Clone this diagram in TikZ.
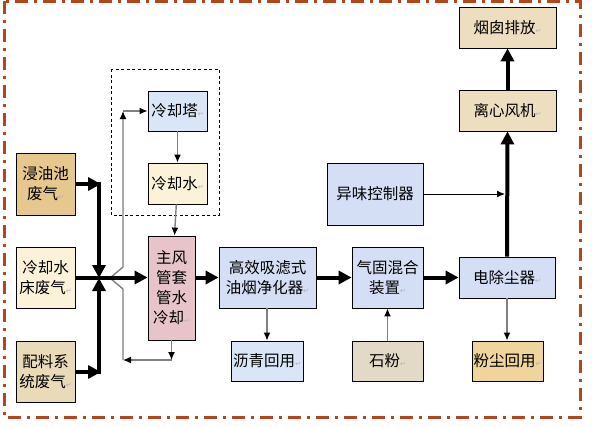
\documentclass[tikz,border=0pt]{standalone}
\usepackage{fontspec}
\newfontfamily\cjk{Noto Sans CJK SC}
\newfontfamily\symfont{DejaVu Sans}
\usetikzlibrary{arrows.meta}
\definecolor{framec}{HTML}{B5461C}
\definecolor{skyc}{HTML}{D8E6F7}
\definecolor{lilacc}{HTML}{D4DEF4}
\definecolor{creamc}{HTML}{FCF1D9}
\definecolor{tanc}{HTML}{E6C88E}
\definecolor{sandc}{HTML}{E9DAB8}
\definecolor{stonec}{HTML}{E3D9C7}
\definecolor{goldc}{HTML}{EFD49C}
\definecolor{beigec}{HTML}{EEDEC0}
\definecolor{pinkc}{HTML}{E7C4C9}
\newcommand{\retmk}{{\symfont\fontsize{7}{7}\selectfont\color{gray!60}↵}}

\begin{document}
\begin{tikzpicture}[x=1pt,y=-1pt]
    \tikzset{box/.style = {shape=rectangle, draw, line width=0.8pt, inner sep=1pt, align=center, font=\cjk\fontsize{15.5}{20}\selectfont}}
    \tikzset{flow/.style = {draw=black, line width=4pt, -{Triangle[length=13pt,width=13pt]}}}
    \tikzset{pipe/.style = {draw=gray, line width=1.4pt, -{Latex[length=8pt,width=7pt,color=black]}}}

    \useasboundingbox (0,0) rectangle (594,426);
    \draw[framec, line width=3pt, dash pattern=on 13pt off 6pt on 3pt off 6pt] (4,1) rectangle (580,417);
    \draw[dashed, line width=0.8pt, dash pattern=on 3pt off 2.5pt] (111,69) rectangle (219,215);

    % boxes
    \node[box, fill=tanc, minimum width=59pt, minimum height=62pt] (jyc) at (45.5,184) {浸油池\\废气\retmk};
    \node[box, fill=creamc, minimum width=59pt, minimum height=61pt] (lqc) at (45.5,277.5) {冷却水\\床废气\retmk};
    \node[box, fill=sandc, minimum width=59pt, minimum height=61pt] (plx) at (45.5,371.5) {配料系\\统废气\retmk};
    \node[box, fill=skyc, minimum width=59pt, minimum height=40pt] (lqt) at (177.5,111) {冷却塔\retmk};
    \node[box, fill=creamc, minimum width=59pt, minimum height=41pt] (lqs) at (177.5,183.5) {冷却水\retmk};
    \node[box, fill=pinkc, minimum width=47pt, minimum height=104pt] (zfg) at (171.5,288) {主风\\管套\\管水\\冷却\retmk};
    \node[box, fill=lilacc, minimum width=97pt, minimum height=61pt] (gx) at (267.5,277.5) {高效吸滤式\\油烟净化器\retmk};
    \node[box, fill=lilacc, minimum width=71pt, minimum height=61pt] (hh) at (387.5,277.5) {气固混合\\装置\retmk};
    \node[box, fill=lilacc, minimum width=96pt, minimum height=41pt] (dcc) at (507,277.5) {电除尘器\retmk};
    \node[box, fill=lilacc, minimum width=96pt, minimum height=62pt] (yw) at (375,194) {异味控制器};
    \node[box, fill=skyc, minimum width=72pt, minimum height=40pt] (lq) at (267,361) {沥青回用\retmk};
    \node[box, fill=stonec, minimum width=71pt, minimum height=40pt] (sf) at (387.5,361) {石粉\retmk};
    \node[box, fill=goldc, minimum width=71pt, minimum height=40pt] (fc) at (507.5,361) {粉尘回用\retmk};
    \node[box, fill=beigec, minimum width=97pt, minimum height=41pt] (lx) at (507.5,110.5) {离心风机\retmk};
    \node[box, fill=beigec, minimum width=97pt, minimum height=41pt] (yc) at (507.5,27.5) {烟囱排放\retmk};

    % cooling water loop
    \coordinate (c1) at (171.5,360);
    \coordinate (c2) at (123,360);
    \coordinate (c6) at (123,111);
    \draw[pipe] (lqt) -- (lqs);
    \draw[pipe] (lqs) -- (zfg);
    \draw[pipe] (zfg.south) -- (c1);
    \draw[pipe] (c1) -- (c2);
    \draw[pipe] (c2) -- (123,289) -- (110,278) -- (123,267) -- (c6);
    \draw[pipe] (c6) -- (lqt.west);

    % gas flows
    \coordinate (jn) at (99,278);
    \draw[flow] (jyc.east |- 0,184) -- (101,184);
    \draw[flow] (plx.east |- 0,372) -- (101,372);
    \draw[flow] (99,182) -- (jn);
    \draw[flow] (99,374) -- (jn);
    \draw[flow] (lqc.east) -- (zfg.west |- lqc.east);
    \draw[flow] (zfg.east |- gx.west) -- (gx.west);
    \draw[flow] (gx) -- (hh);
    \draw[flow] (hh) -- (dcc);
    \draw[flow] (dcc.north) -- (lx.south);
    \draw[flow] (lx) -- (yc);

    % side streams
    \draw[pipe] (gx.south -| lq.north) -- (lq.north);
    \draw[pipe] (sf) -- (hh);
    \draw[pipe] (dcc) -- (fc.north -| dcc.south);
    \draw[line width=1pt, -{Latex[length=8pt,width=7pt]}] (yw.east) -- (505,194);
\end{tikzpicture}
\end{document}
